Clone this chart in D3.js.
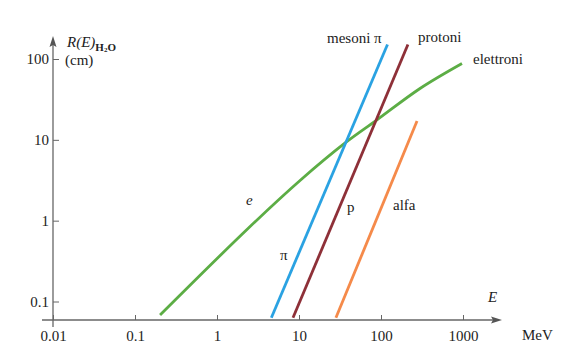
<!DOCTYPE html>
<html>
<head>
<meta charset="utf-8">
<script src="https://cdn.jsdelivr.net/npm/d3@7"></script>
<style>
  html, body { margin: 0; padding: 0; background: #fff; }
  svg text { font-family: "Liberation Serif", "DejaVu Serif", serif; fill: #222; }
</style>
</head>
<body>
<svg id="chart" width="582" height="355"></svg>
<script>
// ---- data ----
const xTicks = [0.01, 0.1, 1, 10, 100, 1000];
const xTickLabels = ["0.01", "0.1", "1", "10", "100", "1000"];
const yTicks = [0.1, 1, 10, 100];
const yTickLabels = ["0.1", "1", "10", "100"];

const electronE = [0.202, 2.39, 10.3, 38.2, 86.9, 299, 972];
const electronR = [0.068, 0.80, 3.14, 9.48, 17.3, 43.2, 88];

const pionE = [4.6, 120];
const pionR = [0.063, 151];

const protonE = [8.45, 213];
const protonR = [0.063, 151];

const alphaE = [28.2, 275];
const alphaR = [0.063, 17.1];

const seriesNames = ["elettroni", "mesoni π", "protoni", "alfa"];
const seriesColors = ["#5cad45", "#2aa2e2", "#8e3038", "#f58a4a"];

// ---- scales ----
const svg = d3.select("#chart");
const x = d3.scaleLog().domain([0.01, 1000]).range([53, 463]);
const y = d3.scaleLog().domain([0.1, 100]).range([301.5, 59]);
const axisY = 320, axisX = 53;
const axisColor = "#666";

// ---- axes ----
const gx = svg.append("g").attr("transform", `translate(0,${axisY})`)
  .call(d3.axisBottom(x).tickValues(xTicks)
    .tickFormat((d, i) => xTickLabels[i])
    .tickSizeInner(-5).tickSizeOuter(0).tickPadding(10));
gx.select(".domain").remove();
gx.selectAll(".tick line").attr("stroke", axisColor);
gx.selectAll(".tick text").attr("font-size", 15)
  .attr("font-family", "Liberation Serif").attr("fill", "#222");

const gy = svg.append("g").attr("transform", `translate(${axisX},0)`)
  .call(d3.axisLeft(y).tickValues(yTicks)
    .tickFormat((d, i) => yTickLabels[i])
    .tickSizeInner(-6).tickSizeOuter(0).tickPadding(4));
gy.select(".domain").remove();
gy.selectAll(".tick line").attr("stroke", axisColor);
gy.selectAll(".tick text").attr("font-size", 15)
  .attr("font-family", "Liberation Serif").attr("fill", "#222");

// axis lines with arrows
svg.append("line").attr("x1", 42).attr("x2", 496).attr("y1", axisY).attr("y2", axisY)
  .attr("stroke", axisColor).attr("stroke-width", 1.3);
svg.append("path").attr("d", `M502,${axisY} L491,${axisY - 3.5} L493,${axisY} L491,${axisY + 3.5} Z`)
  .attr("fill", "#555");
svg.append("line").attr("x1", axisX).attr("x2", axisX).attr("y1", 327).attr("y2", 42)
  .attr("stroke", axisColor).attr("stroke-width", 1.3);
svg.append("path").attr("d", `M${axisX},36 L${axisX - 3.5},47 L${axisX},45 L${axisX + 3.5},47 Z`)
  .attr("fill", "#555");

// axis labels
const yl = svg.append("text").attr("x", 67).attr("y", 47).attr("font-size", 15);
yl.append("tspan").attr("font-style", "italic").text("R(E)");
yl.append("tspan").attr("font-size", 11).attr("font-weight", "bold").attr("dy", 4).text("H");
yl.append("tspan").attr("font-size", 7).attr("font-weight", "bold").attr("dy", 1).text("2");
yl.append("tspan").attr("font-size", 11).attr("font-weight", "bold").attr("dy", -1).text("O");
svg.append("text").attr("x", 65).attr("y", 65).attr("font-size", 15).text("(cm)");
svg.append("text").attr("x", 488).attr("y", 302).attr("font-size", 15)
  .attr("font-style", "italic").text("E");
svg.append("text").attr("x", 522).attr("y", 340).attr("font-size", 15).text("MeV");

// ---- curves ----
const line = d3.line().x(d => x(d[0])).y(d => y(d[1]));
const zip = (a, b) => a.map((v, i) => [v, b[i]]);
const curves = [
  { pts: zip(electronE, electronR), curve: d3.curveCatmullRom.alpha(0.5) },
  { pts: zip(pionE, pionR), curve: d3.curveLinear },
  { pts: zip(protonE, protonR), curve: d3.curveLinear },
  { pts: zip(alphaE, alphaR), curve: d3.curveLinear }
];
curves.forEach((c, i) => {
  svg.append("path").datum(c.pts)
    .attr("d", line.curve(c.curve))
    .attr("fill", "none")
    .attr("stroke", seriesColors[i])
    .attr("stroke-width", 2.8);
});

// ---- series labels ----
const labels = [
  { t: seriesNames[0], x: 473, y: 64, it: false },
  { t: seriesNames[1], x: 327, y: 43, it: false },
  { t: seriesNames[2], x: 418, y: 42, it: false },
  { t: "e", x: 246, y: 205, it: true },
  { t: "π", x: 280, y: 260, it: false },
  { t: "p", x: 347, y: 212, it: false },
  { t: seriesNames[3], x: 393, y: 210, it: false }
];
labels.forEach(l => {
  svg.append("text").attr("x", l.x).attr("y", l.y).attr("font-size", 15)
    .attr("font-style", l.it ? "italic" : "normal").text(l.t);
});
</script>
</body>
</html>
